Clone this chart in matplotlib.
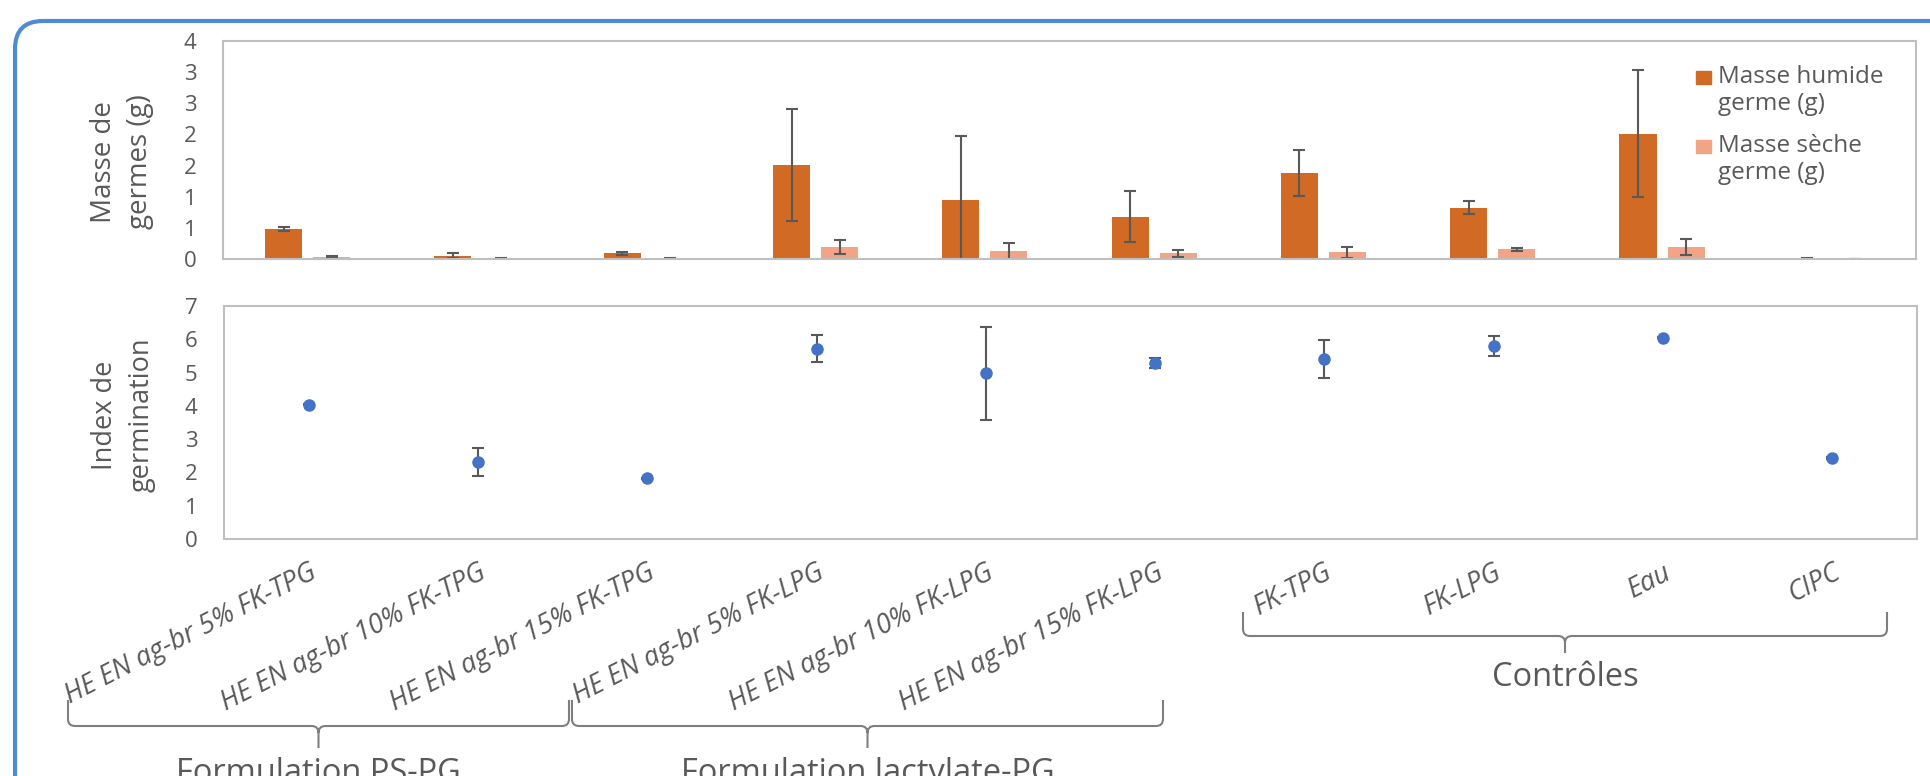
import matplotlib
matplotlib.use("Agg")
import matplotlib.pyplot as plt
import numpy as np
from matplotlib.patches import FancyBboxPatch, Rectangle, PathPatch
from matplotlib.path import Path
from matplotlib.ticker import FuncFormatter, MultipleLocator

# --- data ------------------------------------------------------------------
categories = [
    "HE EN ag-br 5% FK-TPG",
    "HE EN ag-br 10% FK-TPG",
    "HE EN ag-br 15% FK-TPG",
    "HE EN ag-br 5% FK-LPG",
    "HE EN ag-br 10% FK-LPG",
    "HE EN ag-br 15% FK-LPG",
    "FK-TPG",
    "FK-LPG",
    "Eau",
    "CIPC",
]
wet_mass = [0.48, 0.05, 0.09, 1.51, 0.94, 0.68, 1.38, 0.82, 2.01, 0.005]
wet_err = [0.03, 0.04, 0.02, 0.90, 1.03, 0.41, 0.375, 0.105, 1.02, 0.005]
dry_mass = [0.037, 0.005, 0.005, 0.19, 0.13, 0.09, 0.11, 0.155, 0.19, 0.0]
dry_err = [0.01, 0.005, 0.005, 0.11, 0.13, 0.05, 0.09, 0.02, 0.13, 0.0]
germ_index = [4.04, 2.32, 1.82, 5.72, 4.98, 5.30, 5.40, 5.80, 6.05, 2.43]
germ_err = [0.02, 0.42, 0.02, 0.41, 1.40, 0.15, 0.57, 0.30, 0.02, 0.02]
legend_labels = ["Masse humide\ngerme (g)", "Masse sèche\ngerme (g)"]
groups = ["Formulation PS-PG", "Formulation lactylate-PG", "Contrôles"]

DARK = "#D06A24"
LIGHT = "#F2A487"
BLUE = "#4472C4"
GREY = "#595959"
FRAME = "#BFBFBF"
BORDER = "#4E8BD4"

plt.rcParams["font.family"] = ["Open Sans", "DejaVu Sans"]

W, H = 1930, 776
fig = plt.figure(figsize=(W / 100, H / 100), dpi=100)


def px_box(left, top, right, bottom):
    return [left / W, 1 - bottom / H, (right - left) / W, (bottom - top) / H]


def style_frame(ax):
    for sp in ax.spines.values():
        sp.set_color(FRAME)
        sp.set_linewidth(1.5)
    ax.tick_params(axis="y", length=0, pad=19, labelsize=16, labelcolor=GREY)


x = np.arange(len(categories))
ekw = dict(ecolor=GREY, elinewidth=1.5, capsize=4, capthick=1.5)

# top: germ mass bars
ax_top = fig.add_axes(px_box(223, 41, 1916, 259))
ax_top.bar(x - 0.142, wet_mass, 0.219, color=DARK, yerr=wet_err, error_kw=ekw)
ax_top.bar(x + 0.142, dry_mass, 0.219, color=LIGHT, yerr=dry_err, error_kw=ekw)
ax_top.set_xlim(-0.5, len(categories) - 0.5)
ax_top.set_ylim(0, 3.5)
ax_top.yaxis.set_major_locator(MultipleLocator(0.5))
ax_top.yaxis.set_major_formatter(FuncFormatter(lambda v, p: f"{int(np.floor(v + 0.5 + 1e-9))}"))
ax_top.set_xticks([])
style_frame(ax_top)

# bottom: germination index
ax_bot = fig.add_axes(px_box(224, 306, 1917, 539))
ax_bot.errorbar(x, germ_index, yerr=germ_err, fmt="o", color=BLUE, ms=8, **ekw)
ax_bot.set_xlim(-0.5, len(categories) - 0.5)
ax_bot.set_ylim(0, 7)
ax_bot.yaxis.set_major_locator(MultipleLocator(1))
ax_bot.set_xticks(x)
ax_bot.set_xticklabels(categories, rotation=27, ha="right", rotation_mode="anchor",
                       fontstyle="italic", fontsize=19.5, color=GREY)
ax_bot.tick_params(axis="x", length=0, pad=14)
style_frame(ax_bot)

# overlay in pixel coordinates for border, labels, legend and braces
ov = fig.add_axes([0, 0, 1, 1])
ov.set_xlim(0, W)
ov.set_ylim(H, 0)
ov.axis("off")

ov.add_patch(FancyBboxPatch((15, 21), 2000, 820, boxstyle="round,pad=0,rounding_size=28",
                            ec=BORDER, fc="none", lw=3, clip_on=False))

ov.text(122, 162, "Masse de\ngermes (g)", rotation=90, ha="center", va="center",
        fontsize=20, linespacing=1.4, multialignment="center", color=GREY)
ov.text(123, 415, "Index de\ngermination", rotation=90, ha="center", va="center",
        fontsize=19.5, linespacing=1.4, multialignment="center", color=GREY)

for i, (lab, col) in enumerate(zip(legend_labels, [DARK, LIGHT])):
    y0 = 71 + i * 69
    ov.add_patch(Rectangle((1696, y0), 15, 13, color=col))
    ov.text(1718, y0 - 6, lab, ha="left", va="top", fontsize=17.5, linespacing=1.15, color=GREY)


def brace(x0, x1, ytop, yline, ytip, r=7):
    xc = (x0 + x1) / 2
    verts = [(x0, ytop), (x0, yline - r), (x0, yline), (x0 + r, yline),
             (xc - r, yline), (xc, yline), (xc, yline + r), (xc, ytip),
             (xc, yline + r), (xc, yline), (xc + r, yline),
             (x1 - r, yline), (x1, yline), (x1, yline - r), (x1, ytop)]
    codes = [Path.MOVETO, Path.LINETO, Path.CURVE3, Path.CURVE3,
             Path.LINETO, Path.CURVE3, Path.CURVE3, Path.LINETO,
             Path.MOVETO, Path.CURVE3, Path.CURVE3,
             Path.LINETO, Path.CURVE3, Path.CURVE3, Path.LINETO]
    ov.add_patch(PathPatch(Path(verts, codes), fc="none", ec="#7F7F7F", lw=1.5))
    return xc


c1 = brace(68, 569, 700, 726, 748)
c2 = brace(572, 1163, 700, 726, 748)
c3 = brace(1243, 1887, 612, 636, 653)
ov.text(c1, 757, groups[0], ha="center", va="top", fontsize=23.5, color=GREY)
ov.text(c2, 757, groups[1], ha="center", va="top", fontsize=23.5, color=GREY)
ov.text(c3, 677, groups[2], ha="center", va="center", fontsize=23.5, color=GREY)

fig.savefig("out.png", dpi=100, facecolor="white")
